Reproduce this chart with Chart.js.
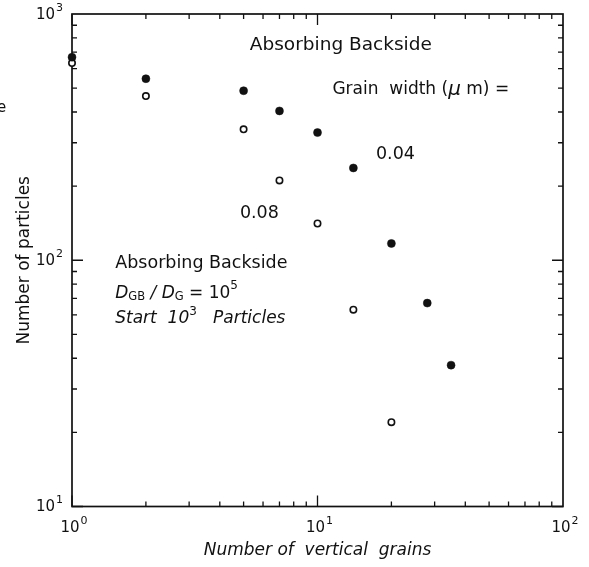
<!DOCTYPE html>
<html>
<head>
<meta charset="utf-8">
<script src="https://cdn.jsdelivr.net/npm/chart.js@4.4.1/dist/chart.umd.min.js"></script>
<style>
  html, body { margin: 0; padding: 0; background: #fff; }
  #wrap { width: 589px; height: 567px; }
</style>
</head>
<body>
<div id="wrap"><canvas id="c" width="589" height="567"></canvas></div>
<script>
// Survivors vs. number of vertical grains, two grain widths
const grains004 = [1, 2, 5, 7, 10, 14, 20, 28, 35];
const particles004 = [668, 546, 488, 404, 330, 237, 117, 67, 37.5];
const grains008 = [1, 2, 5, 7, 10, 14, 20];
const particles008 = [632, 464, 340, 211, 141, 63, 22];

// Decade ticks: value and the power of ten shown as its label
const xTickValues = [1, 10, 100];
const xTickPowers = ['0', '1', '2'];
const yTickValues = [10, 100, 1000];
const yTickPowers = ['1', '2', '3'];

const INK = '#111';
const FONT = '"DejaVu Sans", sans-serif';

function points(xs, ys) {
  return xs.map((x, i) => ({ x: x, y: ys[i] }));
}

// Frame with inward log ticks on all four sides
const framePlugin = {
  id: 'frame',
  beforeDatasetsDraw(chart) {
    const { ctx, chartArea: a, scales: { x, y } } = chart;
    ctx.save();
    ctx.strokeStyle = INK;
    ctx.lineWidth = 1.7;
    ctx.strokeRect(a.left, a.top, a.right - a.left, a.bottom - a.top);
    ctx.lineWidth = 1.3;
    ctx.beginPath();
    [1, 10].forEach(d => {
      for (let k = 1; k <= 9; k++) {
        const len = k === 1 ? 11 : 5;
        const px = x.getPixelForValue(d * k);
        ctx.moveTo(px, a.bottom); ctx.lineTo(px, a.bottom - len);
        ctx.moveTo(px, a.top); ctx.lineTo(px, a.top + len);
        const py = y.getPixelForValue(d * 10 * k);
        ctx.moveTo(a.left, py); ctx.lineTo(a.left + len, py);
        ctx.moveTo(a.right, py); ctx.lineTo(a.right - len, py);
      }
    });
    ctx.stroke();
    ctx.restore();
  }
};

// "10" with a raised exponent, for the decade tick labels
function powerLabel(ctx, pow, px, py, align) {
  const base = '10';
  ctx.font = '15px ' + FONT;
  const wb = ctx.measureText(base).width;
  ctx.font = '11px ' + FONT;
  const we = ctx.measureText(pow).width + 1;
  const w = wb + we;
  let left = align === 'right' ? px - w : px - w / 2;
  ctx.font = '15px ' + FONT;
  ctx.fillText(base, left, py);
  ctx.font = '11px ' + FONT;
  ctx.fillText(pow, left + wb + 1, py - 7);
}

const tickLabelPlugin = {
  id: 'tickLabels',
  afterDraw(chart) {
    const { ctx, chartArea: a, scales: { x, y } } = chart;
    ctx.save();
    ctx.fillStyle = INK;
    ctx.textAlign = 'left';
    ctx.textBaseline = 'middle';
    xTickValues.forEach((v, i) => powerLabel(ctx, xTickPowers[i], x.getPixelForValue(v) + 2, a.bottom + 22, 'center'));
    yTickValues.forEach((v, i) => powerLabel(ctx, yTickPowers[i], a.left - 9, y.getPixelForValue(v) + 1, 'right'));
    ctx.restore();
  }
};

// Text notes placed in data coordinates; segments allow sub/superscripts
const notes = [
  { x: 5.3, y: 750, segs: [{ t: 'Absorbing Backside', s: 18.5 }] },
  { x: 11.5, y: 492, segs: [{ t: 'Grain  width (', s: 17 }, { t: '\u03bc', s: 20, i: true }, { t: ' m) =', s: 17 }] },
  { x: 17.3, y: 268, segs: [{ t: '0.04', s: 17.5 }] },
  { x: 4.83, y: 155, segs: [{ t: '0.08', s: 17.5 }] },
  { x: 1.5, y: 97.5, segs: [{ t: 'Absorbing Backside', s: 17.5 }] },
  { x: 1.5, y: 73.5, segs: [
    { t: 'D', s: 17, i: true }, { t: 'GB', s: 11.5, dy: 4 }, { t: ' / ', s: 17, i: true },
    { t: 'D', s: 17, i: true }, { t: 'G', s: 11.5, dy: 4 }, { t: ' = 10', s: 17 }, { t: '5', s: 12, dy: -7 }
  ] },
  { x: 1.5, y: 58, segs: [
    { t: 'Start  10', s: 17, i: true }, { t: '3', s: 12, dy: -7 }, { t: '   Particles', s: 17, i: true }
  ] },
];

const notesPlugin = {
  id: 'notes',
  afterDatasetsDraw(chart) {
    const { ctx, scales: { x, y } } = chart;
    ctx.save();
    ctx.fillStyle = INK;
    ctx.textBaseline = 'middle';
    ctx.textAlign = 'left';
    notes.forEach(n => {
      let px = x.getPixelForValue(n.x);
      const py = y.getPixelForValue(n.y);
      n.segs.forEach(sg => {
        ctx.font = (sg.i ? 'italic ' : '') + sg.s + 'px ' + FONT;
        ctx.fillText(sg.t, px, py + (sg.dy || 0));
        px += ctx.measureText(sg.t).width;
      });
    });
    ctx.font = '15px ' + FONT;
    ctx.fillText('e', -3, 108);
    ctx.restore();
  }
};

new Chart(document.getElementById('c'), {
  type: 'scatter',
  data: {
    datasets: [
      {
        label: '0.04',
        data: points(grains004, particles004),
        pointStyle: 'circle',
        pointRadius: 4,
        pointBackgroundColor: INK,
        pointBorderColor: INK,
        pointBorderWidth: 0.5,
        clip: false
      },
      {
        label: '0.08',
        data: points(grains008, particles008),
        pointStyle: 'circle',
        pointRadius: 3.2,
        pointBackgroundColor: '#fff',
        pointBorderColor: INK,
        pointBorderWidth: 1.6,
        clip: false
      }
    ]
  },
  options: {
    responsive: false,
    animation: false,
    events: [],
    layout: { padding: { left: 0, right: 26, top: 14, bottom: 0 } },
    plugins: { legend: { display: false }, tooltip: { enabled: false } },
    scales: {
      x: {
        type: 'logarithmic',
        min: 1, max: 100,
        afterBuildTicks: s => { s.ticks = xTickValues.map(v => ({ value: v })); },
        afterFit: s => { s.height = 60.5; },
        grid: { display: false, drawTicks: false },
        border: { display: false },
        ticks: { display: false },
        title: {
          display: true,
          text: 'Number of  vertical  grains',
          color: INK,
          font: { family: FONT, size: 17, style: 'italic' },
          padding: { top: 0, bottom: 6 }
        }
      },
      y: {
        type: 'logarithmic',
        min: 10, max: 1000,
        afterBuildTicks: s => { s.ticks = yTickValues.map(v => ({ value: v })); },
        afterFit: s => { s.width = 72; },
        grid: { display: false, drawTicks: false },
        border: { display: false },
        ticks: { display: false },
        title: {
          display: true,
          text: 'Number of particles',
          color: INK,
          font: { family: FONT, size: 17 },
          padding: { top: 14, bottom: 0 }
        }
      }
    }
  },
  plugins: [framePlugin, tickLabelPlugin, notesPlugin]
});
</script>
</body>
</html>
